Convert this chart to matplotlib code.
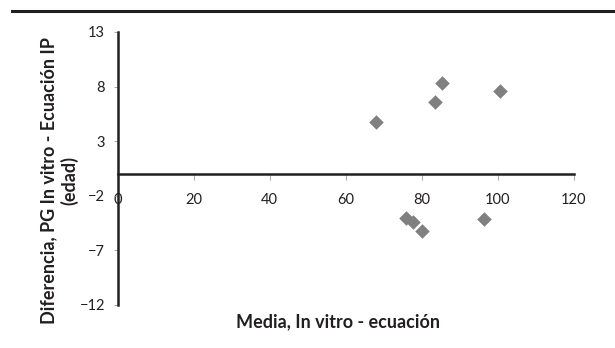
import matplotlib
matplotlib.use("Agg")
import matplotlib.pyplot as plt
from matplotlib.lines import Line2D

# data
media = [68.0, 83.6, 85.3, 100.6, 75.9, 77.6, 80.1, 96.5]
diferencia = [4.8, 6.6, 8.3, 7.6, -4.0, -4.4, -5.2, -4.15]

x_ticks = [0, 20, 40, 60, 80, 100, 120]
y_ticks = [-12, -7, -2, 3, 8, 13]

x_label = "Media, In vitro - ecuación"
y_label = "Diferencia, PG In vitro - Ecuación IP\n(edad)"

plt.rcParams['font.family'] = ['Lato', 'DejaVu Sans']
dark = '#231f20'

fig = plt.figure(figsize=(6.15, 3.48), dpi=100)
ax = fig.add_axes([0.1914, 0.1236, 0.7415, 0.7845])

ax.scatter(media, diferencia, marker='D', s=55, color='#808080', linewidths=0, zorder=3)

ax.set_xlim(0, 120)
ax.set_ylim(-12, 13)
ax.set_xticks(x_ticks)
ax.set_yticks(y_ticks)

# x axis crosses at y = 0
ax.spines['bottom'].set_position(('data', 0))
ax.spines['top'].set_visible(False)
ax.spines['right'].set_visible(False)
for side in ['bottom', 'left']:
    ax.spines[side].set_color(dark)
    ax.spines[side].set_linewidth(1.8)

ax.tick_params(axis='x', direction='out', length=4.3, width=0.6, color='#999999',
               pad=9.5, labelsize=10.5, labelcolor=dark)
ax.tick_params(axis='y', direction='out', length=3, width=0.6, color='#999999',
               pad=6, labelsize=10.5, labelcolor=dark)

fig.text(0.549, 0.0747, x_label, ha='center', va='center',
         fontsize=13, fontweight='bold', color=dark)
fig.text(0.096, 0.48, y_label, ha='center', va='center', rotation=90,
         multialignment='center', fontsize=13, fontweight='bold', color=dark,
         linespacing=1.2)

# thick rule across the top
fig.add_artist(Line2D([12 / 615, 1.0], [1 - 11 / 348] * 2, transform=fig.transFigure,
                      color=dark, linewidth=2.2))

fig.savefig("out.png", dpi=100)
